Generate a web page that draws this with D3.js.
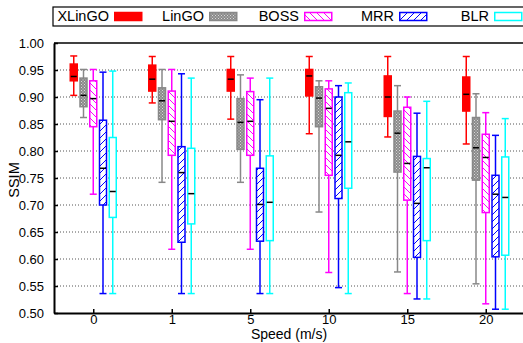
<!DOCTYPE html>
<html>
<head>
<meta charset="utf-8">
<script src="https://cdn.jsdelivr.net/npm/d3@7"></script>
<style>
  body { margin: 0; background: #fff; }
  text { font-family: "Liberation Sans", Arial, sans-serif; fill: #000; }
</style>
</head>
<body>
<div id="chart"></div>
<script>
(() => {
  const width = 523;
  const height = 343;

  // speeds (x categories)
  const speeds = ["0", "1", "5", "10", "15", "20"];
  const methods = ["XLinGO", "LinGO", "BOSS", "MRR", "BLR"];
  const yTicks = [0.5, 0.55, 0.6, 0.65, 0.7, 0.75, 0.8, 0.85, 0.9, 0.95, 1.0];

  // [min, q1, median, q3, max] per speed
  const xlingo = [[0.903, 0.930, 0.938, 0.961, 0.976], [0.889, 0.911, 0.933, 0.959, 0.975], [0.859, 0.911, 0.933, 0.951, 0.975], [0.832, 0.902, 0.939, 0.951, 0.975], [0.826, 0.864, 0.900, 0.939, 0.975], [0.813, 0.874, 0.905, 0.937, 0.975]];
  const lingo = [[0.862, 0.882, 0.903, 0.935, 0.951], [0.742, 0.858, 0.893, 0.917, 0.951], [0.742, 0.803, 0.853, 0.897, 0.941], [0.687, 0.845, 0.898, 0.919, 0.930], [0.576, 0.761, 0.833, 0.874, 0.921], [0.554, 0.746, 0.806, 0.862, 0.906]];
  const boss = [[0.720, 0.845, 0.897, 0.930, 0.951], [0.618, 0.792, 0.855, 0.911, 0.951], [0.618, 0.792, 0.855, 0.910, 0.935], [0.575, 0.755, 0.879, 0.915, 0.930], [0.536, 0.709, 0.777, 0.881, 0.900], [0.517, 0.686, 0.788, 0.831, 0.871]];
  const mrr = [[0.536, 0.700, 0.768, 0.857, 0.946], [0.536, 0.631, 0.760, 0.808, 0.943], [0.536, 0.633, 0.701, 0.768, 0.895], [0.547, 0.712, 0.792, 0.900, 0.921], [0.526, 0.603, 0.703, 0.790, 0.870], [0.507, 0.604, 0.720, 0.755, 0.829]];
  const blr = [[0.536, 0.677, 0.725, 0.825, 0.948], [0.536, 0.665, 0.721, 0.805, 0.935], [0.536, 0.634, 0.705, 0.791, 0.935], [0.536, 0.731, 0.817, 0.908, 0.926], [0.526, 0.634, 0.769, 0.786, 0.892], [0.507, 0.607, 0.714, 0.789, 0.860]];

  const series = [xlingo, lingo, boss, mrr, blr];
  const colors = ["#ff0000", "#888888", "#ff00ff", "#0000ff", "#00ffff"];

  const svg = d3.select("#chart").append("svg")
    .attr("width", width)
    .attr("height", height);

  const defs = svg.append("defs");
  // LinGO checker pattern
  const chk = defs.append("pattern").attr("id", "p-lingo")
    .attr("patternUnits", "userSpaceOnUse").attr("width", 3).attr("height", 3);
  chk.append("rect").attr("width", 3).attr("height", 3).attr("fill", "#8a8a8a");
  chk.append("rect").attr("x", 0).attr("y", 0).attr("width", 1).attr("height", 1).attr("fill", "#d8d8d8");
  chk.append("rect").attr("x", 1.5).attr("y", 1.5).attr("width", 1).attr("height", 1).attr("fill", "#d8d8d8");
  // BOSS "\\\" hatch
  const hb = defs.append("pattern").attr("id", "p-boss")
    .attr("patternUnits", "userSpaceOnUse").attr("width", 7).attr("height", 7);
  hb.append("rect").attr("width", 7).attr("height", 7).attr("fill", "#fff");
  hb.append("path").attr("d", "M-1,-1L8,8M-1,6L1,8M6,-1L8,1").attr("stroke", "#ff00ff").attr("stroke-width", 1);
  // MRR "///" hatch
  const hm = defs.append("pattern").attr("id", "p-mrr")
    .attr("patternUnits", "userSpaceOnUse").attr("width", 7).attr("height", 7);
  hm.append("rect").attr("width", 7).attr("height", 7).attr("fill", "#fff");
  hm.append("path").attr("d", "M-1,8L8,-1M-1,1L1,-1M6,8L8,6").attr("stroke", "#0000ff").attr("stroke-width", 1);

  const fills = ["#ff0000", "url(#p-lingo)", "url(#p-boss)", "url(#p-mrr)", "#fff"];

  const left = 54, right = 525, top = 43, bottom = 313;

  const x = d3.scalePoint().domain(speeds).range([left, right]).padding(0.5);
  const y = d3.scaleLinear().domain([0.5, 1.0]).range([bottom, top]);
  const offset = d3.scalePoint().domain(methods).range([-19.5, 19.5]);
  const bw = 7;

  // grid
  svg.append("g").selectAll("line")
    .data(yTicks.slice(1, -1))
    .join("line")
    .attr("x1", left).attr("x2", right)
    .attr("y1", d => y(d)).attr("y2", d => y(d))
    .attr("stroke", "#555")
    .attr("stroke-width", 1)
    .attr("stroke-dasharray", "1,2");

  // boxes
  methods.forEach((m, mi) => {
    const g = svg.append("g");
    const data = series[mi].map((s, i) => ({ speed: speeds[i], s }));
    const cx = d => x(d.speed) + offset(m);
    const col = colors[mi];
    // whisker
    g.selectAll(".wh").data(data).join("line")
      .attr("x1", cx).attr("x2", cx)
      .attr("y1", d => y(d.s[0])).attr("y2", d => y(d.s[4]))
      .attr("stroke", col).attr("stroke-width", 1.5);
    // caps
    [0, 4].forEach(k => {
      g.selectAll(".cap" + k).data(data).join("line")
        .attr("x1", d => cx(d) - bw / 2).attr("x2", d => cx(d) + bw / 2)
        .attr("y1", d => y(d.s[k])).attr("y2", d => y(d.s[k]))
        .attr("stroke", col).attr("stroke-width", 1.5);
    });
    // box
    g.selectAll("rect").data(data).join("rect")
      .attr("x", d => cx(d) - bw / 2)
      .attr("y", d => y(d.s[3]))
      .attr("width", bw)
      .attr("height", d => y(d.s[1]) - y(d.s[3]))
      .attr("fill", fills[mi])
      .attr("stroke", col)
      .attr("stroke-width", 1.5);
    // median
    g.selectAll(".med").data(data).join("line")
      .attr("x1", d => cx(d) - bw / 2 + 0.5).attr("x2", d => cx(d) + bw / 2 - 0.5)
      .attr("y1", d => y(d.s[2])).attr("y2", d => y(d.s[2]))
      .attr("stroke", "#000").attr("stroke-width", 1.5);
  });

  // axes
  const yAxis = d3.axisLeft(y).tickValues(yTicks).tickFormat(d3.format(".2f"))
    .tickSizeInner(-4).tickSizeOuter(0).tickPadding(10);
  const gy = svg.append("g").attr("transform", `translate(${left},0)`).call(yAxis);
  gy.select(".domain").attr("stroke", "#000").attr("stroke-width", 2);
  gy.selectAll(".tick line").attr("stroke", "#000").attr("stroke-width", 1.5);
  gy.selectAll("text").style("font-size", "13px").attr("font-family", null);

  const xAxis = d3.axisBottom(x).tickSizeInner(-4).tickSizeOuter(0).tickPadding(2);
  const gx = svg.append("g").attr("transform", `translate(0,${bottom})`).call(xAxis);
  gx.select(".domain").attr("stroke", "#000").attr("stroke-width", 2);
  gx.selectAll(".tick line").attr("stroke", "#000").attr("stroke-width", 1.5);
  gx.selectAll("text").style("font-size", "13px").attr("font-family", null);

  // top frame
  svg.append("line").attr("x1", left).attr("x2", right)
    .attr("y1", top).attr("y2", top)
    .attr("stroke", "#000").attr("stroke-width", 1.5);

  // axis titles
  svg.append("text").attr("x", 289).attr("y", 339)
    .attr("text-anchor", "middle").style("font-size", "14px")
    .text("Speed (m/s)");
  svg.append("text")
    .attr("transform", "translate(18.5,180) rotate(-90)")
    .attr("text-anchor", "middle").style("font-size", "14.5px")
    .text("SSIM");

  // legend
  svg.append("rect").attr("x", 53).attr("y", 7).attr("width", 480).attr("height", 19)
    .attr("fill", "#fff").attr("stroke", "#000").attr("stroke-width", 1.2);
  const lg = svg.append("g").selectAll("g").data(methods).join("g")
    .attr("transform", (d, i) => `translate(${114 + i * 95},0)`);
  lg.append("text").attr("x", -5).attr("y", 21)
    .attr("text-anchor", "end").style("font-size", "14.5px")
    .text(d => d);
  lg.append("rect").attr("x", 0.75).attr("y", 12.5).attr("width", 27).attr("height", 8)
    .attr("fill", (d, i) => fills[i])
    .attr("stroke", (d, i) => colors[i]).attr("stroke-width", 1.5);
})();
</script>
</body>
</html>
